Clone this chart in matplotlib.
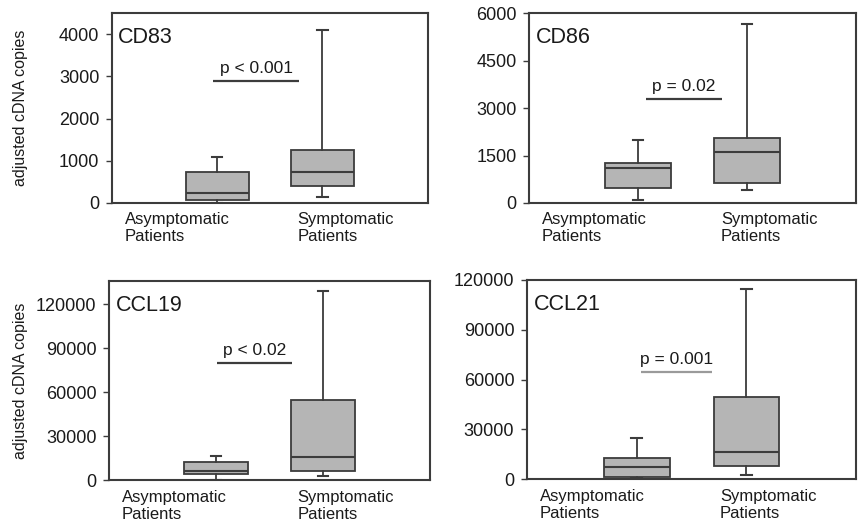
import matplotlib
matplotlib.use("Agg")
import matplotlib.pyplot as plt
from matplotlib import font_manager

# font: the original uses a narrow humanist sans; take the closest installed
names = {f.name for f in font_manager.fontManager.ttflist}
family = "Liberation Sans" if "Liberation Sans" in names else "DejaVu Sans"
plt.rcParams["font.family"] = [family, "DejaVu Sans"]

groups = ["Asymptomatic\nPatients", "Symptomatic\nPatients"]
y_label = "adjusted cDNA copies"

# box statistics per marker: [whislo, q1, median, q3, whishi] for (asymptomatic, symptomatic)
cd83_stats = [[0, 70, 230, 725, 1100], [150, 410, 725, 1255, 4100]]
cd86_stats = [[85, 475, 1110, 1270, 2005], [420, 635, 1615, 2060, 5660]]
ccl19_stats = [[0, 3900, 6400, 12500, 16600], [3000, 6400, 15900, 54400, 129000]]
ccl21_stats = [[500, 1400, 7000, 12600, 24700], [2200, 7800, 16300, 49200, 114400]]

titles = ["CD83", "CD86", "CCL19", "CCL21"]
p_texts = ["p < 0.001", "p = 0.02", "p < 0.02", "p = 0.001"]
p_levels = [2890, 3300, 80200, 64800]
p_spans = [(0.96, 1.78), (1.07, 1.77), (1.01, 1.71), (1.04, 1.69)]
y_maxes = [4500, 6000, 136000, 120000]
y_ticks = [
    [0, 1000, 2000, 3000, 4000],
    [0, 1500, 3000, 4500, 6000],
    [0, 30000, 60000, 90000, 120000],
    [0, 30000, 60000, 90000, 120000],
]
all_stats = [cd83_stats, cd86_stats, ccl19_stats, ccl21_stats]

# axes rectangles (figure fraction)
rects = [
    [0.1305, 0.617, 0.368, 0.358],
    [0.6166, 0.617, 0.381, 0.358],
    [0.127, 0.0943, 0.374, 0.3757],
    [0.614, 0.0962, 0.384, 0.3755],
]
label_x = [0.12, 1.76]
ylabel_x = [-0.266, None, -0.252, None]

edge = "#3c3c3c"
fill = "#b5b5b5"
txt = "#1a1a1a"

fig = plt.figure(figsize=(8.58, 5.30), dpi=100)

for i in range(4):
    ax = fig.add_axes(rects[i])
    bxp = []
    for s in all_stats[i]:
        bxp.append({"whislo": s[0], "q1": s[1], "med": s[2], "q3": s[3],
                    "whishi": s[4], "fliers": []})
    ax.bxp(bxp, positions=[1, 2], widths=0.6, patch_artist=True,
           showfliers=False,
           boxprops=dict(facecolor=fill, edgecolor=edge, linewidth=1.3),
           medianprops=dict(color=edge, linewidth=1.5),
           whiskerprops=dict(color=edge, linewidth=1.3),
           capprops=dict(color=edge, linewidth=1.5),
           capwidths=0.1)

    ax.set_xlim(0, 3)
    ax.set_ylim(0, y_maxes[i])
    ax.set_yticks(y_ticks[i])
    ax.set_xticks([])
    ax.tick_params(axis="y", direction="out", length=4, width=1,
                   color=edge, labelsize=13, pad=5, labelcolor=txt)
    for sp in ax.spines.values():
        sp.set_color(edge)
        sp.set_linewidth(1.5)

    ax.text(0.02, 0.93, titles[i], transform=ax.transAxes, fontsize=15.5,
            ha="left", va="top", color=txt)

    line_col = "#9a9a9a" if i == 3 else edge
    ax.plot(list(p_spans[i]), [p_levels[i], p_levels[i]], color=line_col,
            linewidth=1.6, solid_capstyle="butt", clip_on=False)
    ax.text(sum(p_spans[i]) / 2, p_levels[i] + y_maxes[i] * 0.025,
            p_texts[i], ha="center", va="bottom", fontsize=12.5, color=txt)

    for gx, g in zip(label_x, groups):
        ax.text(gx, -0.05, g, transform=ax.get_xaxis_transform(),
                ha="left", va="top", fontsize=12, linespacing=1.15,
                color=txt)

    if ylabel_x[i] is not None:
        ax.set_ylabel(y_label, fontsize=11.5, color=txt)
        ax.yaxis.set_label_coords(ylabel_x[i], 0.5)

fig.savefig("out.png", dpi=100)
